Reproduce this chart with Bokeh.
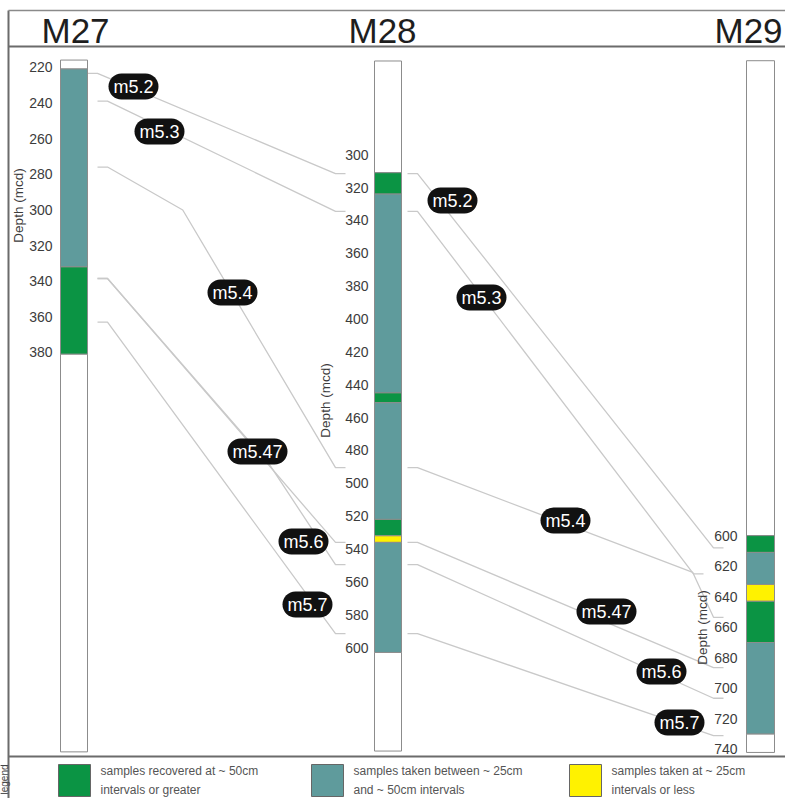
import math
from bokeh.plotting import figure
from bokeh.models import Range1d
from bokeh.embed import file_html
from bokeh.resources import INLINE
from bokeh.core.properties import value

W, H = 785, 798

# ---------------- data ----------------
wells = ["M27", "M28", "M29"]

# core intervals (depth top / base in mcd) and sampling class
m27_top = [216, 221, 332, 381]
m27_base = [221, 332, 381, 604]
m27_kind = ["none", "mid", "coarse", "none"]

m28_top = [243, 311, 324, 445, 451, 522, 532, 536, 603]
m28_base = [311, 324, 445, 451, 522, 532, 536, 603, 663]
m28_kind = ["none", "coarse", "mid", "coarse", "mid", "coarse", "fine", "mid", "none"]

m29_top = [289, 600, 611, 632, 643, 670, 730]
m29_base = [600, 611, 632, 643, 670, 730, 742]
m29_kind = ["none", "coarse", "mid", "fine", "coarse", "mid", "none"]

m27_ticks = [220, 240, 260, 280, 300, 320, 340, 360, 380]
m28_ticks = [300, 320, 340, 360, 380, 400, 420, 440, 460, 480, 500, 520, 540, 560, 580, 600]
m29_ticks = [600, 620, 640, 660, 680, 700, 720, 740]

# correlated horizons and their depths (mcd) in each well
horizons = ["m5.2", "m5.3", "m5.4", "m5.47", "m5.6", "m5.7"]
m27_depth = [223.5, 239, 276, 338.5, 338.5, 363]
m28_depth = [311.5, 334.5, 490.5, 536, 549.5, 591.5]
m29_depth = [608, 625, 653.5, 686.5, 706.5, 731]

legend_kinds = ["coarse", "mid", "fine"]
legend_text = [
    "samples recovered at ~ 50cm\nintervals or greater",
    "samples taken between ~ 25cm\nand ~ 50cm intervals",
    "samples taken at ~ 25cm\nintervals or less",
]

# ---------------- layout / style ----------------
COLORS = {"none": "#ffffff", "coarse": "#0b9444", "mid": "#5f9b9c", "fine": "#fff200"}
FONT = value("Liberation Sans")

WELL_LAYOUT = {
    "M27": dict(x0=60, x1=87, ref=(220, 66.7, 1.783), tick_x=52, title_x=41, ylab=(18, 205)),
    "M28": dict(x0=374, x1=401, ref=(320, 187, 1.643), tick_x=368, title_x=348, ylab=(325, 400)),
    "M29": dict(x0=746, x1=774, ref=(670, 642, 1.527), tick_x=737, title_x=714, ylab=(702, 627)),
}
WELL_DATA = {
    "M27": (m27_top, m27_base, m27_kind, m27_ticks, m27_depth),
    "M28": (m28_top, m28_base, m28_kind, m28_ticks, m28_depth),
    "M29": (m29_top, m29_base, m29_kind, m29_ticks, m29_depth),
}


def depth_range(w):
    d, y, k = WELL_LAYOUT[w]["ref"]
    return Range1d(start=d + (H - y) / k, end=d - y / k)


def to_px(w, depth):
    d, y, k = WELL_LAYOUT[w]["ref"]
    return y + k * (depth - d)


p = figure(width=W, height=H, x_range=Range1d(0, W), y_range=Range1d(H, 0),
           output_backend="svg", toolbar_location=None, min_border=0,
           x_axis_location=None, y_axis_location=None, outline_line_color=None)
p.grid.visible = False
p.background_fill_color = "white"
p.border_fill_color = "white"
p.extra_y_ranges = {w: depth_range(w) for w in wells}

# frame lines
p.segment(x0=[8, 8, 8], y0=[46, 756, 10], x1=[W, W, 8], y1=[46, 756, H],
          line_color="#6b6b6b", line_width=2)
p.segment(x0=[8], y0=[10], x1=[W], y1=[10], line_color="#8a8a8a", line_width=1.3)

# correlation lines
PAIRS = [("M27", "M28", 97, 345), ("M28", "M29", 407, 723)]
STUB = 10
START_X = {("M27", "m5.2"): 87}
END_X = {("M28", "m5.3"): 703}
KNEES = {("M27", "m5.4"): [(0.33, 0.143)],
         ("M27", "m5.6"): [(0.71, 0.65)],
         ("M28", "m5.4"): [(0.93, 0.70)]}

xs, ys = [], []
for wa, wb, xa_def, xb_def in PAIRS:
    da_list = WELL_DATA[wa][4]
    db_list = WELL_DATA[wb][4]
    for h, da, db in zip(horizons, da_list, db_list):
        xa = START_X.get((wa, h), xa_def)
        xb = END_X.get((wa, h), xb_def)
        ya, yb = to_px(wa, da), to_px(wb, db)
        x1, x2 = xa + STUB, xb - STUB
        px = [xa, x1]
        py = [ya, ya]
        for fx, fy in KNEES.get((wa, h), []):
            px.append(x1 + fx * (x2 - x1))
            py.append(ya + fy * (yb - ya))
        px += [x2, xb]
        py += [yb, yb]
        xs.append(px)
        ys.append(py)
p.multi_line(xs=xs, ys=ys, line_color="#c9c9c9", line_width=1.3)

# well columns, tick labels, titles
for w in wells:
    L = WELL_LAYOUT[w]
    tops, bases, kinds, ticks, _ = WELL_DATA[w]
    p.quad(left=L["x0"], right=L["x1"], top=tops, bottom=bases,
           fill_color=[COLORS[k] for k in kinds], line_color="#8c8c8c", line_width=1,
           y_range_name=w)
    p.text(x=L["tick_x"], y=ticks, text=[str(t) for t in ticks], y_range_name=w,
           text_align="right", text_baseline="middle", text_font=FONT,
           text_font_size="14px", text_color="#3c3c3c")
    p.text(x=[L["ylab"][0]], y=[L["ylab"][1]], text=["Depth (mcd)"], angle=math.pi / 2,
           text_align="center", text_baseline="middle", text_font=FONT,
           text_font_size="13.5px", text_color="#3c3c3c")
    p.text(x=[L["title_x"]], y=[30], text=[w], text_align="left",
           text_baseline="middle", text_font=FONT, text_font_size="35px",
           text_color="#1e1e1e")

# horizon labels (pills)
LABEL_XY = {
    ("M27", "M28"): [(133, 86), (159, 131), (232, 292), (257, 451), (303, 541), (307, 604)],
    ("M28", "M29"): [(452, 200), (481, 297), (565, 520), (606, 611), (661, 671), (679, 722)],
}
for key, pos in LABEL_XY.items():
    p.text(x=[q[0] for q in pos], y=[q[1] for q in pos], text=horizons,
           text_align="center", text_baseline="middle", text_font=FONT,
           text_font_size="18px", text_color="white",
           background_fill_color="#111111", border_radius=13,
           padding=dict(left=5, right=5, top=3, bottom=3))

# legend
LEG_X = [58, 311, 569]
p.quad(left=LEG_X, right=[x + 32 for x in LEG_X], top=764, bottom=796,
       fill_color=[COLORS[k] for k in legend_kinds], line_color="#666666", line_width=1)
p.text(x=[x + 42 for x in LEG_X], y=780, text=legend_text, text_align="left",
       text_baseline="middle", text_font=FONT, text_font_size="12px",
       text_line_height=1.3, text_color="#555555")
p.text(x=[4], y=[779], text=["legend"], angle=math.pi / 2, text_align="center",
       text_baseline="middle", text_font=FONT, text_font_size="10px", text_color="#444444")

open("out.html", "w").write(file_html(p, INLINE))
